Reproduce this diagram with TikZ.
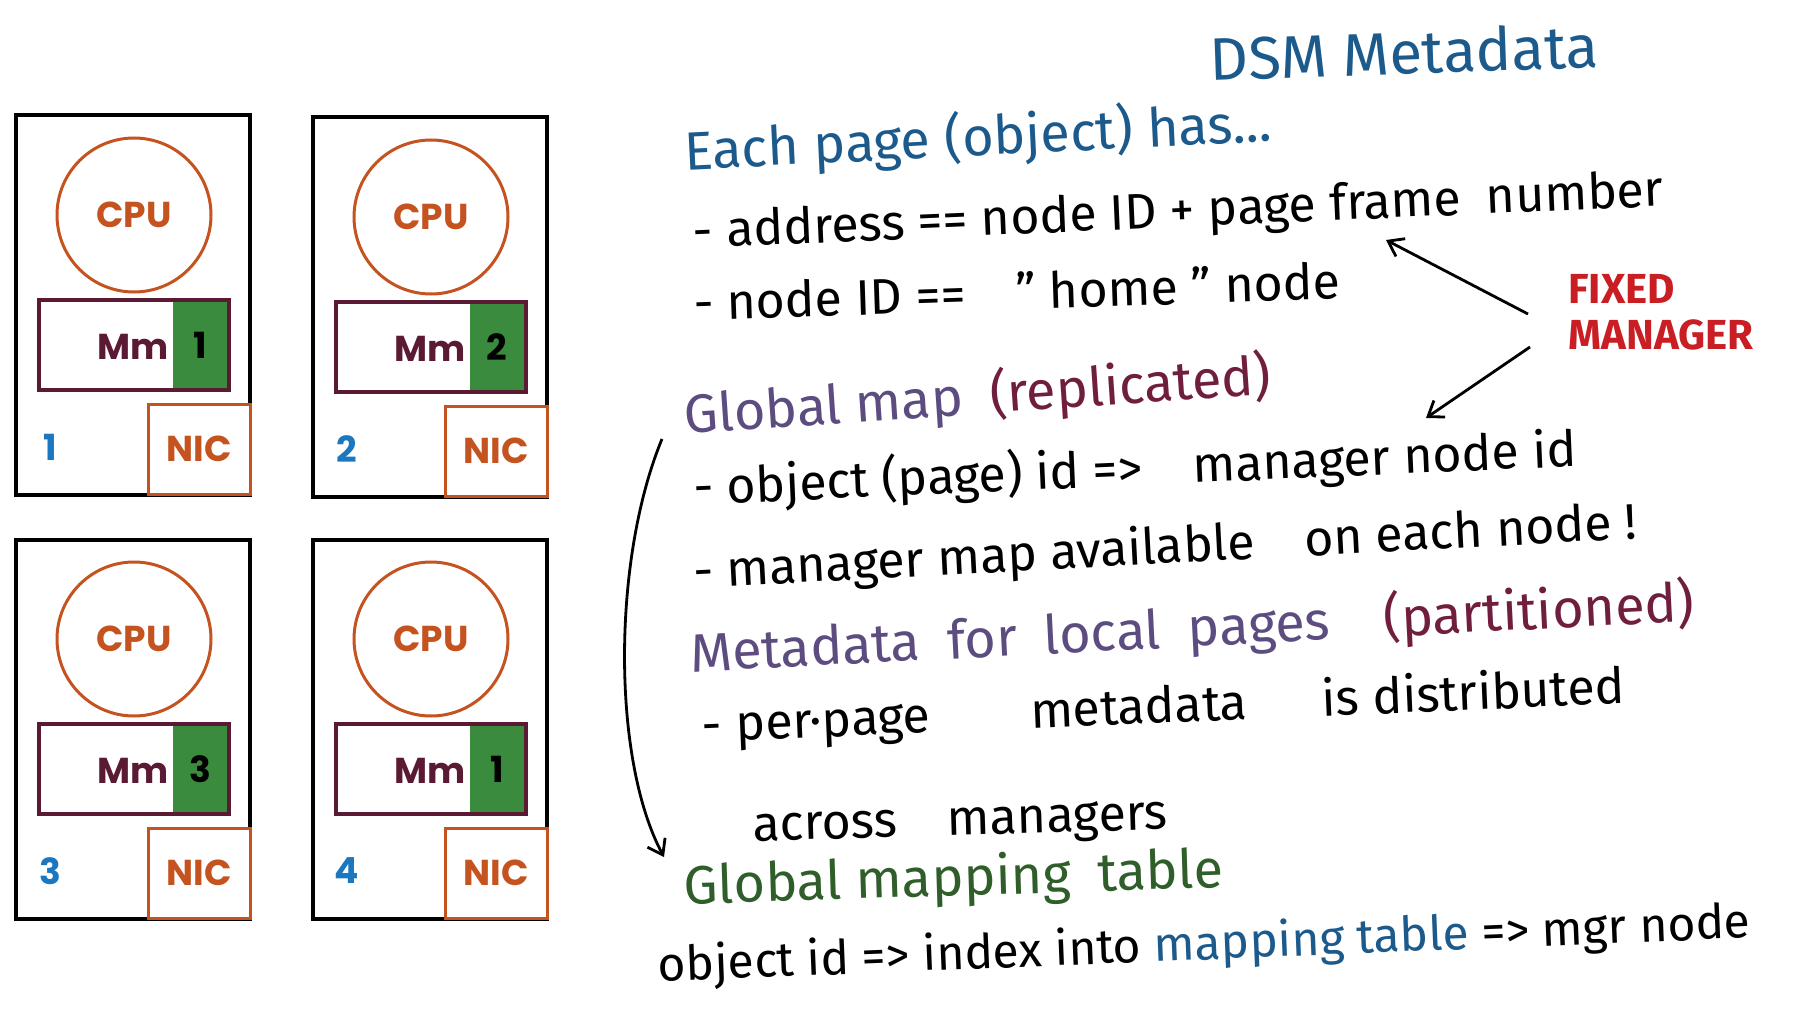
\documentclass[tikz,border=0pt]{standalone}
\usepackage{fontspec}
\setmainfont{Fira Sans}
\newfontfamily\boxfont{Poppins}
\usetikzlibrary{arrows.meta}

\definecolor{cpuorange}{HTML}{C4531F}
\definecolor{memmaroon}{HTML}{5B1A33}
\definecolor{memgreen}{HTML}{3A8B3D}
\definecolor{idblue}{HTML}{1B78C0}
\definecolor{inkblue}{HTML}{1C5A8C}
\definecolor{inkpurple}{HTML}{5D4C80}
\definecolor{inkmaroon}{HTML}{701E3E}
\definecolor{inkgreen}{HTML}{2F5E2A}
\definecolor{inkred}{HTML}{C81E24}

\tikzset{
  host/.style={draw=black, line width=2pt, minimum width=117pt, minimum height=189.5pt, inner sep=0},
  cpu/.style={shape=circle, draw=cpuorange, line width=1.5pt, minimum size=77pt, inner sep=0,
    text=cpuorange, font=\boxfont\bfseries\fontsize{18}{20}\selectfont},
  memtag/.style={fill=memgreen, minimum width=27pt, minimum height=44pt, inner sep=0,
    font=\boxfont\bfseries\fontsize{18}{20}\selectfont},
  mem/.style={draw=memmaroon, line width=1.6pt, minimum width=95pt, minimum height=45pt, inner sep=0},
  memlabel/.style={text=memmaroon, inner sep=0, font=\boxfont\bfseries\fontsize{18}{20}\selectfont},
  nic/.style={draw=cpuorange, fill=white, line width=1.5pt, minimum width=51pt, minimum height=45pt,
    inner sep=0, text=cpuorange, font=\boxfont\bfseries\fontsize{18}{20}\selectfont},
  hostid/.style={text=idblue, inner sep=0, font=\boxfont\bfseries\fontsize{18}{20}\selectfont},
  hand/.style={anchor=west, inner sep=0, font=\fontsize{25}{28}\selectfont},
  fixedtxt/.style={anchor=west, text=inkred, inner sep=0, font=\bfseries\fontsize{21}{24}\selectfont},
  link/.style={-{Straight Barb[length=7pt,width=10pt]}, line width=1.4pt}
}

\begin{document}
\begin{tikzpicture}[x=0.5pt, y=-0.5pt]
	\useasboundingbox (0,0) rectangle (1811,1011);
	% the four hosts
	\foreach \n/\dx/\dy/\pg in {1/0/0/1, 2/297/2/2, 3/0/424/3, 4/297/424/1}{
		\begin{scope}[shift={(\dx,\dy)}]
			\node[host] (host\n) at (133,305) {};
			\node[cpu] (cpu\n) at (134,215) {CPU};
			\node[memtag] (tag\n) at (200,345) {\pg};
			\node[mem] (mem\n) at (134,345) {};
			\node[memlabel] (mm\n) at (133,347) {Mm};
			\node[nic] (nic\n) at (199,449) {NIC};
			\node[hostid] (id\n) at (50,447) {\n};
		\end{scope}
	}
	% notes
	\node[hand, text=inkblue, anchor=center, rotate=2, font=\fontsize{30}{34}\selectfont] (title) at (1404,52) {DSM Metadata};
	\node[hand, text=inkblue, rotate=2.8, font=\fontsize{27}{30}\selectfont] (each) at (684,153) {Each page (object) has...};
	\node[hand, rotate=2.5] (addr) at (693,235) {- address == node ID + page frame\enspace number};
	\node[hand, rotate=1.9] (nodeid) at (693,302) {- node ID ==\quad " home " node};
	\node[hand, rotate=3.9, font=\fontsize{27}{30}\selectfont] (gmap) at (684,417) {\color{inkpurple}Global map\enspace \color{inkmaroon}(replicated)};
	\node[hand, rotate=2.5] (objpage) at (693,489) {- object (page) id =>\quad manager node id};
	\node[hand, rotate=3] (mmap) at (693,574) {- manager map available\quad on each node !};
	\node[hand, rotate=2.9, font=\fontsize{27}{30}\selectfont] (meta) at (690,655) {\color{inkpurple}Metadata\enspace for\enspace local\enspace pages\quad \color{inkmaroon}(partitioned)};
	\node[hand, rotate=2.4] (perpage) at (702,728) {- per·page\qquad metadata\quad\enspace is distributed};
	\node[hand, rotate=1.7] (across) at (753,832) {across\quad managers};
	\node[hand, text=inkgreen, rotate=1.8, font=\fontsize{27}{30}\selectfont] (gmt) at (684,889) {Global mapping\enspace table};
	\node[hand, rotate=2.3, font=\fontsize{24}{27}\selectfont] (objid) at (658,968) {object id => index into {\color{inkblue}mapping table} => mgr node};
	\node[fixedtxt] (fixed) at (1568,289) {FIXED};
	\node[fixedtxt] (manager) at (1568,335) {MANAGER};
	% arrows
	\coordinate (fm1) at (1528,314);
	\coordinate (pfn) at (1386,240);
	\coordinate (fm2) at (1530,347);
	\coordinate (mgrid) at (1426,418);
	\coordinate (gmstart) at (662,439);
	\coordinate (gmend) at (664,857);
	\draw[link] (fm1) -- (pfn);
	\draw[link] (fm2) -- (mgrid);
	\draw[link] (gmstart) .. controls (612,560) and (612,760) .. (gmend);
\end{tikzpicture}
\end{document}
